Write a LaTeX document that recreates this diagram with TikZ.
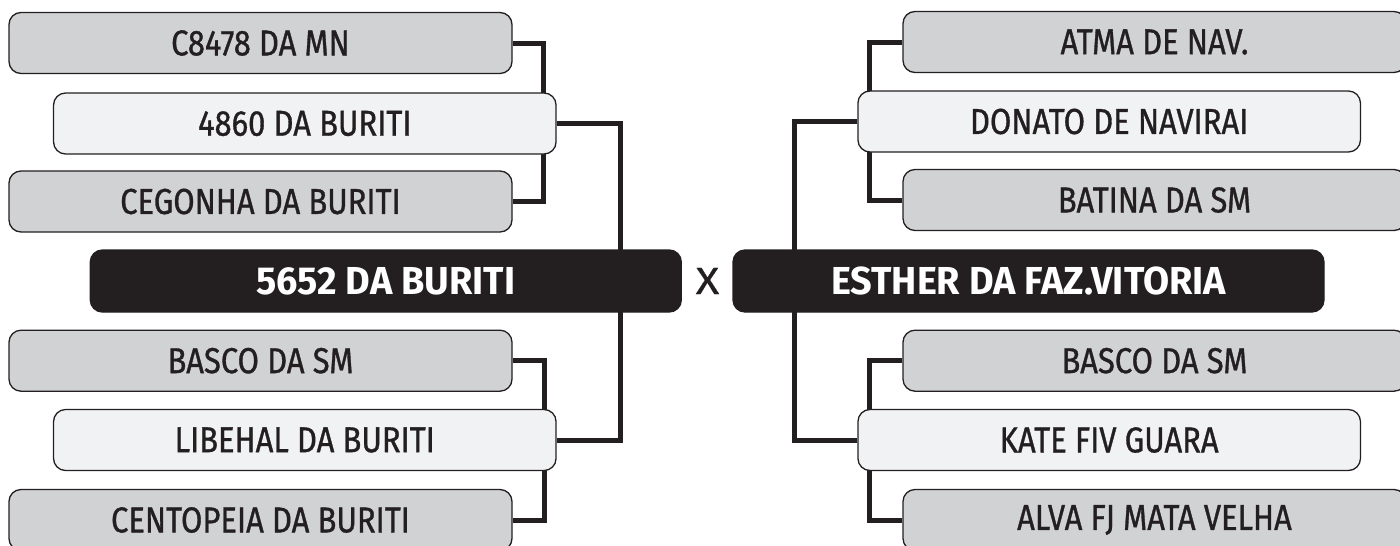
\documentclass[tikz,border=0pt]{standalone}
\usepackage{fontspec}
\usetikzlibrary{backgrounds}
\setmainfont{Fira Sans}
\newfontfamily\boxfont{Fira Sans}[FakeStretch=0.86, FakeBold=0.9]
\newfontfamily\mainfont{Fira Sans}[FakeStretch=0.97]
\newfontfamily\xfont{Fira Sans}[FakeStretch=1.15, FakeBold=0.6]
\definecolor{ink}{HTML}{231F20}
\definecolor{graybox}{HTML}{D1D2D4}
\definecolor{lightbox}{HTML}{F1F2F3}
\tikzset{
  base/.style={rectangle, rounded corners=12pt, draw=ink, line width=1.3pt, text=ink, inner sep=0pt, font=\boxfont\fontsize{36}{36}\selectfont},
  graynode/.style={base, fill=graybox, minimum width=503pt, minimum height=61pt},
  lightnode/.style={base, fill=lightbox, minimum width=502.5pt, minimum height=61pt},
  mainnode/.style={base, fill=ink, text=white, minimum width=591pt, minimum height=62pt, font=\mainfont\bfseries\fontsize{39}{39}\selectfont},
  link/.style={draw=ink, line width=5pt}
}
\begin{document}
\begin{tikzpicture}[x=1pt,y=-1pt]
\useasboundingbox (0,0) rectangle (1400,546);
% left
\node[graynode]  (L1) at (260.5,43)   {C8478 DA MN};
\node[lightnode] (L2) at (304.8,123.5) {4860 DA BURITI};
\node[graynode]  (L3) at (260.5,201.5) {CEGONHA DA BURITI};
\node[mainnode]  (LM) at (385.8,281)  {5652 DA BURITI};
\node[graynode]  (L4) at (260.5,360.7) {BASCO DA SM};
\node[lightnode] (L5) at (304.8,440)  {LIBEHAL DA BURITI};
\node[graynode]  (L6) at (260.5,520)  {CENTOPEIA DA BURITI};
% right
\node[graynode]  (R1) at (1154.5,42)  {ATMA DE NAV.};
\node[lightnode] (R2) at (1109.2,121.5) {DONATO DE NAVIRAI};
\node[graynode]  (R3) at (1154.5,200)  {BATINA DA SM};
\node[mainnode]  (RM) at (1028.5,281)  {ESTHER DA FAZ.VITORIA};
\node[graynode]  (R4) at (1154.5,360.7) {BASCO DA SM};
\node[lightnode] (R5) at (1109.2,440)  {KATE FIV GUARA};
\node[graynode]  (R6) at (1154.5,520)  {ALVA FJ MATA VELHA};
\node[text=ink, inner sep=0pt, font=\xfont\fontsize{38}{38}\selectfont] (X) at (707.5,281) {X};
% connectors behind the boxes
\begin{scope}[on background layer]
\draw[link] (L1.east) -- ++(31,0) |- (L3.east);
\draw[link] (L2.east) -- ++(64,0) |- (L5.east);
\draw[link] (L4.east) -- ++(32,0) |- (L6.east);
\draw[link] (R1.west) -- ++(-32.5,0) |- (R3.west);
\draw[link] (R2.west) -- ++(-63,0) |- (R5.west);
\draw[link] (R4.west) -- ++(-32.5,0) |- (R6.west);
\end{scope}
\end{tikzpicture}
\end{document}
